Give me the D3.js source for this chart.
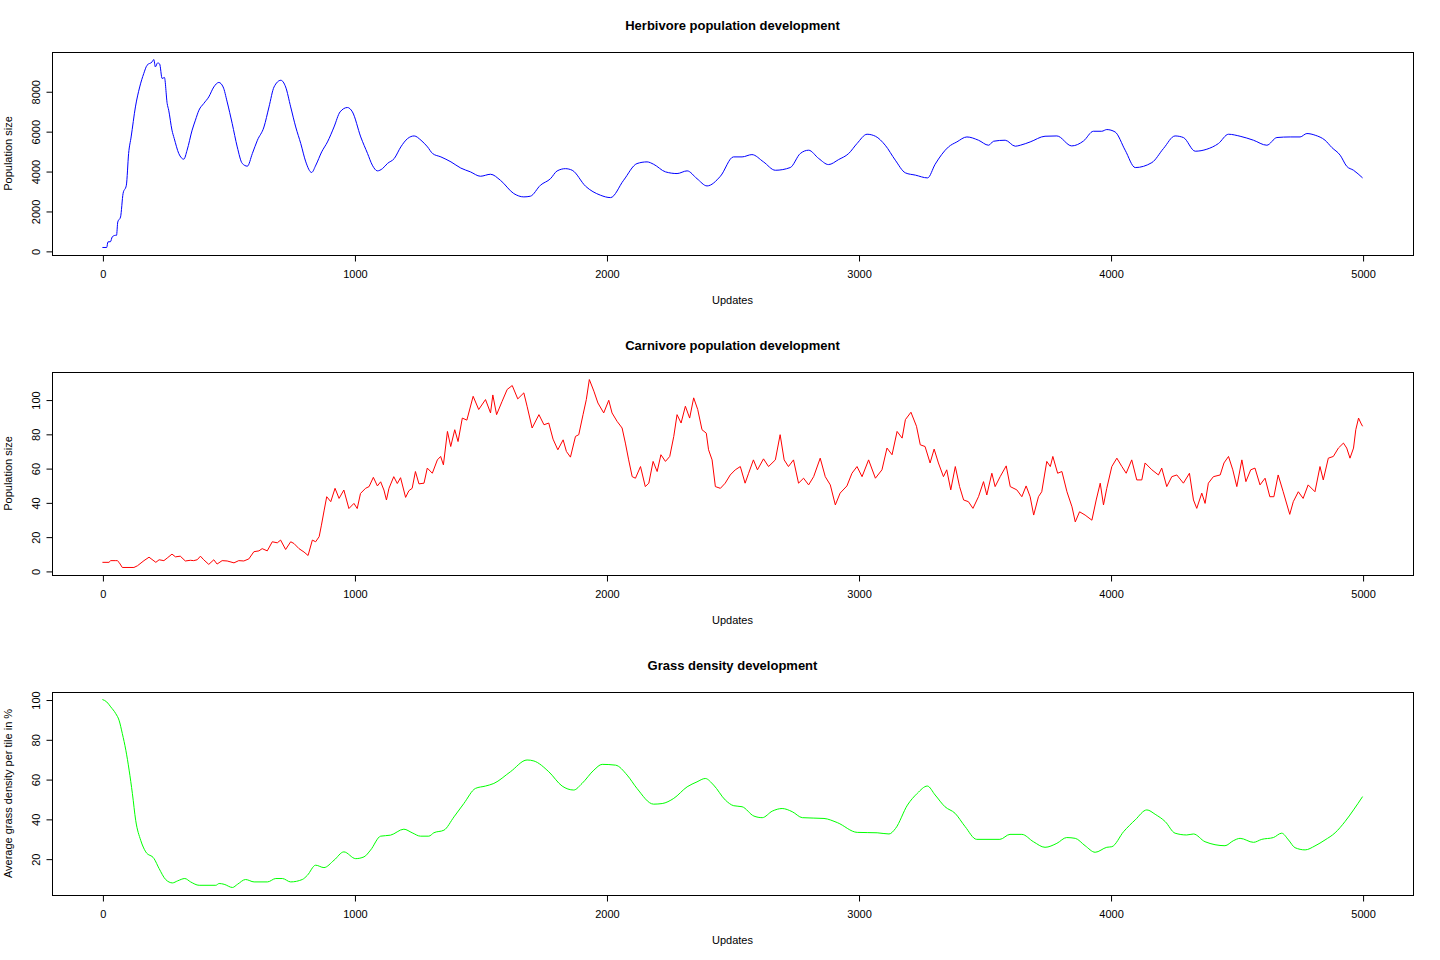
<!DOCTYPE html>
<html>
<head>
<meta charset="utf-8">
<script src="https://cdn.jsdelivr.net/npm/d3@7"></script>
<style>
  html, body { margin: 0; padding: 0; background: #fff; }
  svg { display: block; font-family: "Liberation Sans", Arial, Helvetica, sans-serif; }
</style>
</head>
<body>
<svg id="chart" width="1440" height="960"></svg>
<script>
// ---------- DATA ----------
const xTicks = [0, 1000, 2000, 3000, 4000, 5000];

const herbUpdates = [0,17,22,32,39,52,56,61,72,82,95,104,114,131,148,164,177,197,204,210,219,227,237,246,257,263,276,285,303,323,336,356,369,383,402,422,442,462,479,495,515,535,555,575,595,615,641,661,681,708,727,747,767,787,807,830,847,870,893,919,943,972,992,1025,1052,1071,1091,1111,1131,1158,1184,1211,1237,1264,1290,1310,1343,1383,1422,1460,1500,1540,1579,1632,1672,1698,1738,1778,1804,1837,1864,1917,1976,2016,2068,2121,2161,2187,2234,2280,2320,2359,2399,2452,2504,2538,2577,2623,2670,2729,2769,2802,2842,2881,2921,2961,2994,3034,3067,3106,3146,3186,3226,3274,3304,3357,3390,3430,3476,3516,3536,3582,3622,3642,3681,3740,3787,3846,3893,3932,3965,3985,4018,4058,4098,4164,4210,4256,4289,4336,4382,4428,4468,4514,4567,4620,4660,4713,4752,4779,4812,4851,4878,4911,4937,4964,5000];
const herbValues = [170,170,450,460,700,780,780,1450,1700,2875,3290,4880,5710,7215,8215,8885,9300,9470,9590,9220,9420,9370,8640,8690,7385,7050,6050,5630,4880,4595,5045,6050,6550,7050,7385,7715,8215,8440,8215,7465,6380,5210,4380,4245,4880,5545,6210,7215,8215,8550,8215,7215,6210,5380,4460,3930,4300,4960,5460,6210,6965,7185,6965,5710,4880,4295,4010,4120,4380,4630,5210,5630,5760,5545,5210,4880,4710,4460,4150,3960,3740,3840,3540,2875,2705,2740,3290,3620,4005,4120,4040,3240,2790,2670,3540,4375,4460,4340,3960,3875,4010,3620,3255,3740,4710,4710,4825,4460,4040,4175,4880,5045,4630,4325,4575,4880,5380,5845,5745,5295,4545,3910,3795,3657,4340,5210,5460,5710,5545,5295,5495,5545,5245,5295,5460,5745,5760,5260,5510,5995,5995,6080,5960,5045,4175,4425,5130,5760,5680,4995,5095,5380,5845,5745,5545,5295,5680,5710,5710,5880,5795,5545,5180,4795,4240,4040,3657];
const herbTicks = [0, 2000, 4000, 6000, 8000];

const carnUpdates = [0,26,33,53,59,66,79,125,139,165,185,212,225,244,257,276,290,309,329,349,362,376,389,402,422,442,455,475,495,522,541,561,581,601,621,634,654,674,694,707,727,747,760,780,800,816,833,846,860,869,880,890,906,923,939,958,978,998,1011,1024,1044,1058,1075,1091,1104,1117,1127,1137,1156,1170,1183,1203,1216,1229,1242,1256,1276,1289,1309,1329,1342,1353,1369,1382,1398,1411,1428,1446,1471,1493,1520,1540,1549,1564,1586,1606,1626,1648,1672,1685,1705,1732,1752,1771,1788,1807,1828,1841,1857,1877,1890,1907,1920,1932,1950,1966,1989,2009,2022,2042,2062,2075,2088,2102,2115,2135,2154,2168,2185,2201,2216,2234,2251,2267,2280,2296,2313,2330,2346,2362,2379,2396,2405,2419,2432,2452,2471,2491,2511,2531,2550,2564,2583,2599,2623,2643,2670,2689,2705,2722,2742,2762,2782,2802,2822,2848,2868,2888,2908,2927,2954,2974,2994,3014,3040,3067,3093,3113,3133,3153,3173,3186,3208,3230,3245,3264,3284,3300,3317,3337,3350,3366,3384,3401,3417,3436,3454,3476,3496,3509,3529,3542,3562,3586,3602,3628,3648,3665,3681,3695,3714,3727,3747,3761,3771,3790,3807,3827,3847,3860,3877,3899,3926,3943,3959,3972,3985,4005,4025,4045,4062,4084,4104,4124,4137,4164,4190,4203,4223,4243,4263,4289,4313,4329,4342,4362,4375,4388,4408,4435,4450,4468,4485,4501,4521,4537,4556,4573,4593,4613,4632,4648,4665,4685,4711,4725,4745,4764,4784,4811,4831,4844,4864,4884,4904,4924,4937,4950,4964,4973,4984,4993,5000];
const carnValues = [5,5,6,6,6,5,2,2,3,6,8,5,6.5,6,7.5,9.8,8.2,8.6,5.8,6.2,6,6.5,8.6,6.5,3.8,6.5,4,6,5.8,4.7,6,5.8,7,11.2,11.7,13,11.7,17,16.4,18,12.5,17,16,13,11,9,18,17,20,26.7,35.5,43.3,40.4,48.2,42.3,47.2,36.4,39.4,36.4,45.2,48.2,49.2,54.6,49.6,52,47.2,41.4,48.2,55,51,54.4,42.9,46.8,48.2,58,50.8,51.2,60,57,64.8,66.8,61.9,81.4,72.6,82.4,75.5,89.2,88,101.9,94.2,100,92.2,102.7,91.2,99,105.9,108.2,100.4,103.9,96.1,83.4,91.2,85.3,86.3,76.9,70.7,76.5,69.7,66.4,78.5,79.5,91.2,100,111.7,104.9,98,92.2,99.6,92.2,87.3,83.4,74.6,64.8,55,54.1,60.9,49.2,51.2,63.9,58,67.8,63.9,66.8,78.5,91.2,86.3,96.1,89.2,101,94.2,82.4,80.4,70.7,64.8,49.2,48.2,51.2,56,59,60.9,51.2,57,64.8,59,65.4,60.9,64.8,79.5,64.8,60.9,64.8,51.2,54.1,50.2,55,65.8,55,50.2,38.5,45.4,49.6,57,60.9,55,64.8,54.1,59,71.7,67.8,81.4,77.5,88.3,92.6,84.4,73.6,72.6,63,71.1,63,55,59,47.3,60.9,49.2,41.4,40.4,36.5,43.3,52.1,44.3,57,49.2,55,61.3,49.2,47.3,43.3,49.6,43.3,32.6,43.3,46.2,63.9,60.9,66.8,57,58,46.2,37.4,28.6,34.5,32.6,29.6,41.4,51.2,38.5,48.2,60.9,65.8,60.9,57,64.8,53.1,53.1,63,59,56,60,49.2,55,56,51.2,57,41.4,36.5,45.4,39.4,51.2,55,56,63,66.8,59,49.2,64.8,52.1,59,60,50.2,54.1,43.3,43.3,56,46.2,33,40.4,46.2,42.3,50.2,46.2,60.9,53.1,65.8,66.8,71.7,74.6,71.7,65.8,71.7,82.4,89.2,86.3,84.4];
const carnTicks = [0, 20, 40, 60, 80, 100];

const grassUpdates = [0,17,33,53,66,79,93,106,119,132,152,172,205,225,251,278,298,327,350,384,450,463,483,516,536,568,602,655,688,714,747,793,813,846,879,919,958,1005,1038,1064,1104,1143,1196,1229,1262,1295,1315,1355,1395,1434,1480,1520,1553,1619,1685,1712,1771,1824,1870,1903,1950,1983,2036,2082,2121,2187,2221,2267,2320,2359,2392,2425,2472,2505,2538,2585,2618,2658,2697,2737,2777,2863,2916,2995,3074,3121,3147,3194,3233,3273,3304,3343,3383,3423,3469,3561,3601,3648,3694,3740,3787,3826,3860,3899,3939,3985,4005,4052,4098,4144,4177,4217,4256,4302,4329,4375,4454,4487,4514,4567,4600,4646,4679,4706,4732,4772,4811,4851,4891,4930,4964,5000];
const grassValues = [100,98.8,96.3,92.9,89.6,82.9,74.5,64.5,52.7,39.3,29.2,23.4,20,15,9.5,7.8,8.8,10,8.3,6.6,6.6,7.5,7.1,5.5,7.1,9.5,8.3,8.3,10,10,8.3,9.5,11.6,16.7,15.5,19.2,23.4,20,20.9,24.3,31.3,31.8,34.8,33,31.3,31.3,33,34.3,41,47.7,55.3,56.5,57.8,63.7,69.6,69.1,63.7,56.5,54.5,57.8,64.5,67.4,67,62,55.3,47.4,47.7,50.3,56.1,58.6,60.3,57,49.4,46.6,46.1,41.4,40.6,43.9,45.2,43.6,40.6,40.2,38.1,33.2,33,32.4,35.2,46.9,52.8,56.5,52,46.1,42.8,36.1,29.7,29.7,32.2,32.2,28.5,25.7,27.7,30.6,30.2,26.5,23.2,25.7,26,33.6,39.5,44.5,42.3,38.6,32.8,31.9,32.4,28.5,26.5,29,30.2,28.2,29.7,30.6,32.8,29.4,25.5,24.4,26.4,29.4,33,38.6,44.5,51.2];
const grassTicks = [20, 40, 60, 80, 100];

const panels = [
  { title: "Herbivore population development", ylabel: "Population size", color: "#0000ff", xs: herbUpdates, ys: herbValues, ticks: herbTicks, top: 52, smooth: true },
  { title: "Carnivore population development", ylabel: "Population size", color: "#ff0000", xs: carnUpdates, ys: carnValues, ticks: carnTicks, top: 372, smooth: false },
  { title: "Grass density development", ylabel: "Average grass density per tile in %", color: "#00ff00", xs: grassUpdates, ys: grassValues, ticks: grassTicks, top: 692, smooth: true }
];

// ---------- DRAW ----------
const svg = d3.select("#chart");
const left = 52, right = 1413, plotH = 203;

function padded(ext) {
  const r = ext[1] - ext[0];
  return [ext[0] - 0.04 * r, ext[1] + 0.04 * r];
}

const x = d3.scaleLinear().domain(padded(d3.extent(xTicks))).range([left, right]);

panels.forEach(p => {
  const top = p.top, bottom = top + plotH;
  const y = d3.scaleLinear().domain(padded(d3.extent(p.ys))).range([bottom, top]);
  const g = svg.append("g");

  g.append("text")
    .attr("x", (left + right) / 2).attr("y", top - 27)
    .attr("text-anchor", "middle").attr("dominant-baseline", "central")
    .attr("font-size", 13).attr("font-weight", "bold").attr("fill", "#000")
    .text(p.title);

  const pts = p.xs.map((u, i) => [u, p.ys[i]]);
  g.append("path")
    .datum(pts)
    .attr("fill", "none").attr("stroke", p.color).attr("stroke-width", 1)
    .attr("stroke-linejoin", "round")
    .attr("d", d3.line().curve(p.smooth ? d3.curveMonotoneX : d3.curveLinear)
      .x(d => x(d[0])).y(d => y(d[1])));

  g.append("rect")
    .attr("x", left + 0.5).attr("y", top + 0.5)
    .attr("width", right - left).attr("height", plotH)
    .attr("fill", "none").attr("stroke", "#000").attr("stroke-width", 1);

  const xa = g.append("g").attr("transform", `translate(0.5,${bottom + 0.5})`)
    .call(d3.axisBottom(x).tickValues(xTicks).tickSize(6).tickPadding(9).tickFormat(d3.format("d")));
  xa.select(".domain").remove();
  xa.selectAll("text").attr("font-size", 11).attr("font-family", "Liberation Sans, Arial, sans-serif").attr("fill", "#000");

  const ya = g.append("g").attr("transform", `translate(${left + 0.5},0.5)`)
    .call(d3.axisLeft(y).tickValues(p.ticks).tickSize(6).tickFormat(d3.format("d")));
  ya.select(".domain").remove();
  ya.selectAll("text")
    .attr("font-size", 11).attr("font-family", "Liberation Sans, Arial, sans-serif").attr("fill", "#000")
    .attr("x", null).attr("dy", null)
    .attr("text-anchor", "middle").attr("dominant-baseline", "central")
    .attr("transform", "translate(-17,0) rotate(-90)");

  g.append("text")
    .attr("x", (left + right) / 2).attr("y", bottom + 45)
    .attr("text-anchor", "middle").attr("dominant-baseline", "central")
    .attr("font-size", 11).attr("fill", "#000")
    .text("Updates");

  g.append("text")
    .attr("transform", `translate(8,${(top + bottom) / 2}) rotate(-90)`)
    .attr("text-anchor", "middle").attr("dominant-baseline", "central")
    .attr("font-size", 11).attr("fill", "#000")
    .text(p.ylabel);
});
</script>
</body>
</html>
